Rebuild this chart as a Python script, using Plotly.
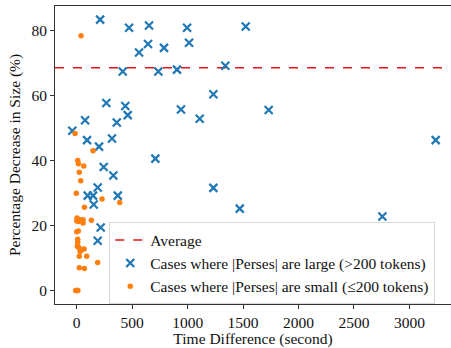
import plotly.graph_objects as go

# Large cases (>200 tokens): time difference (s), percentage decrease (%)
large_x = [211, 472, 652, 995, 1524, 562, 643, 787, 1013, 415, 736, 904, 1340, 1232,
           267, 438, 460, 940, 1109, 361, 75, -40, 93, 318, 201, 1731, 3237, 709,
           243, 330, 189, 99, 147, 370, 153, 1232, 1470, 216, 189, 2756]
large_y = [83.4, 80.9, 81.6, 80.9, 81.3, 73.3, 75.9, 74.7, 76.3, 67.4, 67.4, 68.0, 69.2, 60.4,
           57.7, 56.8, 54.0, 55.7, 52.9, 51.7, 52.4, 49.2, 46.3, 46.8, 44.3, 55.6, 46.3, 40.6,
           38.0, 35.4, 31.7, 29.2, 29.2, 29.2, 26.5, 31.6, 25.2, 19.4, 15.3, 22.8]

# Small cases (<=200 tokens)
small_x = [39, -15, 147, 9, 15, 63, 23, 36, -4, 228, 388, 69, 3, 32, 57, 0, 18, 57, 132,
           14, 0, 9, 9, 5, 18, 45, 66, 30, 23, 90, 189, 23, 69, -10, 0, 5, 10]
small_y = [78.4, 48.3, 43.0, 40.0, 39.0, 38.3, 36.4, 33.8, 29.9, 28.2, 27.1, 25.6, 22.3, 21.8,
           21.8, 21.4, 21.2, 20.8, 21.6, 18.3, 18.1, 15.8, 14.8, 13.6, 13.2, 12.5, 12.8, 12.0,
           10.5, 10.5, 8.6, 7.0, 6.8, 0.0, 0.0, 0.0, 0.0]

average = 68.6
x_range = [-196, 3375]
y_range = [-4.17, 87.6]
x_ticks = [0, 500, 1000, 1500, 2000, 2500, 3000]
y_ticks = [0, 20, 40, 60, 80]

serif = "Liberation Serif"
fnt = dict(family=serif, size=15.5, color="#111")

fig = go.Figure()
fig.add_trace(go.Scatter(
    x=x_range, y=[average, average], mode="lines", name="Average",
    line=dict(color="#e8141a", width=1.5, dash="dash")))
fig.add_trace(go.Scatter(
    x=large_x, y=large_y, mode="markers",
    name="Cases where |Perses| are large (>200 tokens)",
    marker=dict(symbol="x-thin", size=8, line=dict(color="#1f77b4", width=2.2), color="#1f77b4")))
fig.add_trace(go.Scatter(
    x=small_x, y=small_y, mode="markers",
    name="Cases where |Perses| are small (≤200 tokens)",
    marker=dict(symbol="circle", size=5.5, color="#ff7f0e")))

fig.update_layout(
    width=451, height=348,
    margin=dict(l=55, r=0, t=6, b=44),
    paper_bgcolor="white", plot_bgcolor="white",
    font=fnt,
    showlegend=True,
    legend=dict(x=0.137, y=0.274, xanchor="left", yanchor="top",
                bgcolor="rgba(255,255,255,0.85)", bordercolor="#d8d8d8", borderwidth=1,
                font=fnt, tracegroupgap=0),
    xaxis=dict(range=x_range, tickvals=x_ticks, showgrid=False, zeroline=False,
               showline=True, linecolor="#333", linewidth=1, mirror=True,
               ticks="outside", ticklen=4, tickcolor="#333", tickfont=fnt,
               title=dict(text="Time Difference (second)", standoff=2, font=fnt)),
    yaxis=dict(range=y_range, tickvals=y_ticks, showgrid=False, zeroline=False,
               showline=True, linecolor="#333", linewidth=1,
               ticks="outside", ticklen=4, tickcolor="#333", tickfont=fnt,
               title=dict(text="Percentage Decrease in Size (%)", standoff=6, font=fnt)),
)

fig.write_html("out.html")
